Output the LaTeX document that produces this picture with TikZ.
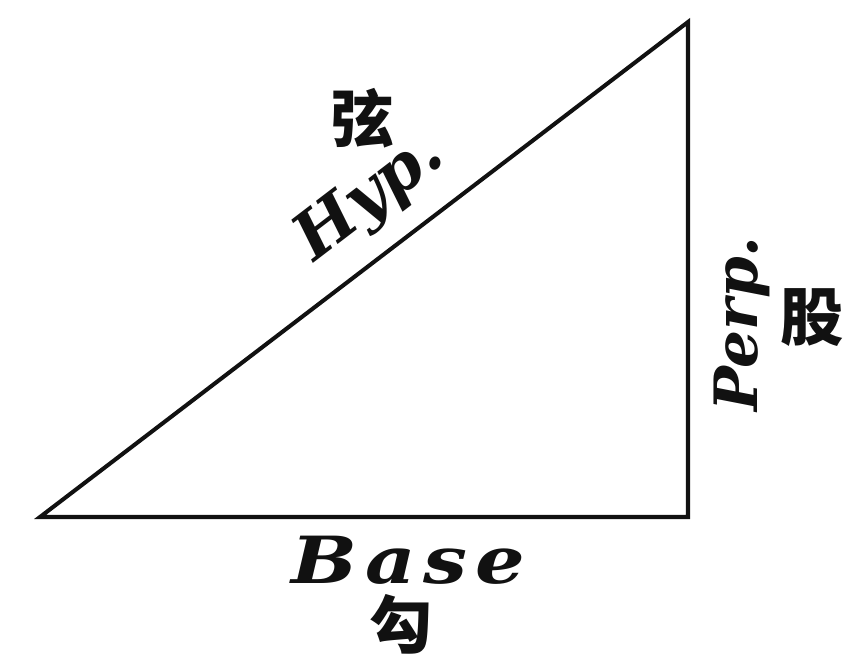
\documentclass[tikz,border=0pt]{standalone}
\usepackage{fontspec}
\setmainfont{DejaVu Serif}
\newfontfamily\cjk{Noto Sans CJK SC}
\usetikzlibrary{positioning}
\definecolor{PrintInk}{HTML}{111111}

\begin{document}
\begin{tikzpicture}[
    x=0.02cm, y=-0.02cm,
    side/.style={draw=PrintInk, line width=2.3pt, line join=miter},
    side label/.style={inner sep=0pt, text=PrintInk,
                       font=\fontsize{37}{37}\selectfont\bfseries\itshape},
    hanzi/.style={inner sep=0pt, text=PrintInk,
                  font=\cjk\bfseries\fontsize{36}{36}\selectfont}
]
    \useasboundingbox (0,0) rectangle (847,661);

    % corners of the right triangle
    \coordinate (left) at (40,517);
    \coordinate (right) at (688,517);
    \coordinate (top) at (688,22);

    \draw[side] (left) -- (right) -- (top) -- cycle;

    \node[side label, rotate=37.4, anchor=base] (hyp) at (381,212) {Hyp.};
    \node[hanzi] (xian) at (362,118) {弦};

    \node[side label, rotate=90, font=\fontsize{34}{34}\selectfont\bfseries\itshape]
        (perp) at (742,324) {Perp.};
    \node[hanzi] (gu) at (812,318) {股};

    \node[side label, font=\addfontfeature{FakeStretch=1.2,LetterSpace=12}\fontsize{37}{37}\selectfont\bfseries\itshape]
        (base) at (408,560) {Base};
    \node[hanzi] (gou) at (401,624) {勾};
\end{tikzpicture}
\end{document}
